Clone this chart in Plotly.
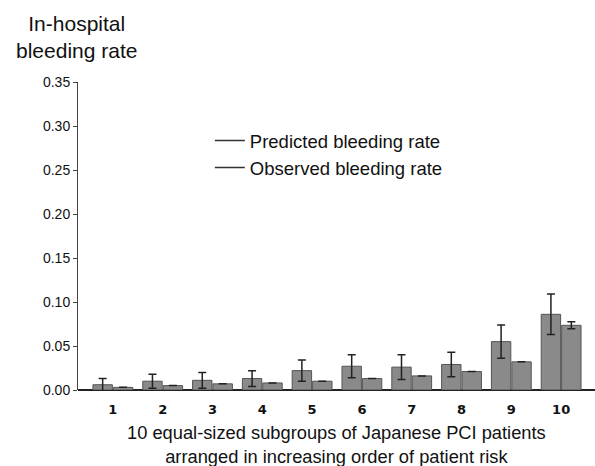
import plotly.graph_objects as go

groups = [1, 2, 3, 4, 5, 6, 7, 8, 9, 10]
group_labels = ["1", "2", "3", "4", "5", "6", "7", "8", "9", "10"]
predicted = [0.006, 0.010, 0.011, 0.013, 0.022, 0.027, 0.026, 0.029, 0.055, 0.086]
predicted_err = [0.007, 0.008, 0.009, 0.009, 0.012, 0.013, 0.014, 0.014, 0.019, 0.023]
observed = [0.003, 0.005, 0.007, 0.008, 0.010, 0.013, 0.016, 0.021, 0.032, 0.0735]
observed_err = [0, 0, 0, 0, 0, 0, 0, 0, 0, 0.004]
y_ticks = [0.00, 0.05, 0.10, 0.15, 0.20, 0.25, 0.30, 0.35]
series_names = ["Predicted bleeding rate", "Observed bleeding rate"]

bar_color = "#8a8a8a"
edge_color = "#555555"

fig = go.Figure()
fig.add_trace(go.Bar(
    x=groups, y=predicted, name=series_names[0], showlegend=False,
    marker=dict(color=bar_color, line=dict(color=edge_color, width=1)),
    error_y=dict(type="data", array=predicted_err, visible=True,
                 color="#222222", thickness=1.5, width=4),
))
fig.add_trace(go.Bar(
    x=groups, y=observed, name=series_names[1], showlegend=False,
    marker=dict(color=bar_color, line=dict(color=edge_color, width=1)),
    error_y=dict(type="data", array=observed_err, visible=True,
                 color="#222222", thickness=1.5, width=4),
))
# legend entries drawn as short dashes
for i, nm in enumerate(series_names):
    fig.add_trace(go.Scatter(
        x=[None], y=[None], mode="lines", name=nm, legendgroup=f"g{i}",
        line=dict(color="#333333", width=1.5),
    ))

fig.update_layout(
    width=595, height=466,
    margin=dict(l=78, r=0, t=82, b=76),
    paper_bgcolor="white", plot_bgcolor="white",
    barmode="group", bargap=0.18, bargroupgap=0.05,
    font=dict(family="Liberation Sans, Arial, sans-serif", color="#111111"),
    showlegend=True,
    legend=dict(
        x=0.255, y=0.87, xanchor="left", yanchor="top",
        bgcolor="rgba(0,0,0,0)", font=dict(size=18.5, color="#111111"),
        tracegroupgap=0, itemwidth=30,
    ),
    xaxis=dict(
        range=[0.3, 10.68], tickmode="array", tickvals=groups, ticktext=group_labels,
        showgrid=False, zeroline=False, showline=False, ticks="",
        ticklabelstandoff=10,
        tickfont=dict(family="DejaVu Sans, sans-serif", size=13, color="#111111", weight="bold"),
    ),
    yaxis=dict(
        range=[0, 0.35], tickmode="array", tickvals=y_ticks,
        tickformat=".2f", showgrid=False, zeroline=True, zerolinecolor="#222222", zerolinewidth=1.5,
        showline=True, linecolor="#444444", linewidth=1,
        ticks="outside", ticklen=4, tickcolor="#444444",
        tickfont=dict(size=14, color="#111111"),
    ),
    annotations=[
        dict(text="In-hospital<br>bleeding rate", xref="paper", yref="paper",
             x=-0.002, y=1.145, xanchor="center", yanchor="middle",
             showarrow=False, font=dict(size=21, color="#111111")),
        dict(text="10 equal-sized subgroups of Japanese PCI patients<br>arranged in increasing order of patient risk",
             xref="paper", yref="paper", x=0.5, y=-0.098, xanchor="center", yanchor="top",
             showarrow=False, font=dict(size=18.3, color="#111111")),
    ],
)

fig.write_html("out.html")
